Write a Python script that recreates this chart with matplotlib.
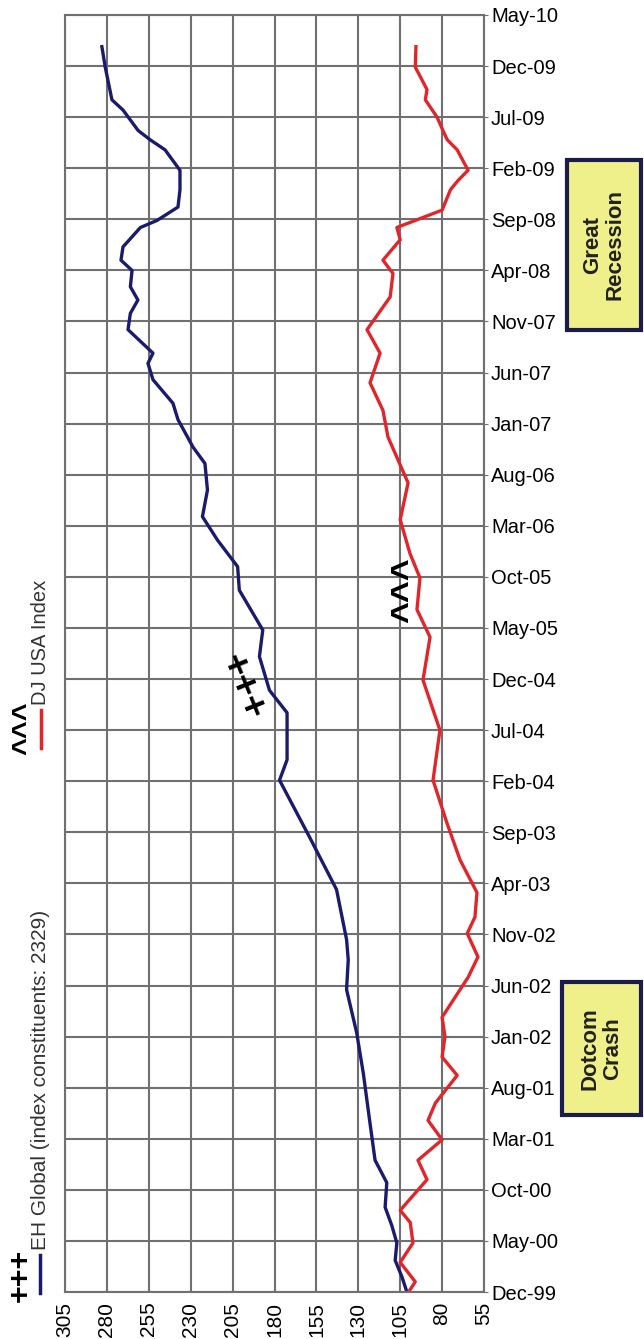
import matplotlib.pyplot as plt
from matplotlib.patches import Rectangle
from matplotlib.lines import Line2D

plt.rcParams['font.family'] = ['Liberation Sans', 'DejaVu Sans']

# time is in months since Dec-99, values are index levels (Dec-99 = 100)
eh_months = [0, 1.5, 3.1, 4.8, 6.5, 8.3, 10.7, 12.9, 16.5, 21.4, 25.4, 29.6, 32.5, 34.5,
             39.4, 44.5, 50.1, 52.1, 56.7, 58.9, 62.2, 64.8, 68.7, 71.0, 73.6, 75.9, 78.5,
             81.1, 82.7, 85.4, 87.0, 89.3, 90.9, 91.9, 94.2, 95.8, 97.1, 98.4, 100.0, 101.0,
             102.3, 104.2, 104.9, 106.2, 107.9, 109.8, 111.8, 112.8, 113.7, 115.7, 116.7,
             119.9, 121.9]
eh_values = [101, 104, 108, 107, 110, 114, 113, 120, 123, 127, 131, 137, 136, 137,
             143, 159, 177, 172.5, 172.5, 183, 189, 187, 201, 202, 214, 223, 220,
             221.5, 228.6, 237.6, 240.6, 252.5, 255.5, 252.5, 267.4, 266, 261.5, 266, 265, 271.6,
             270.4, 260, 250, 237.6, 236.4, 236.4, 245.3, 254.3, 261.4, 270.4, 277,
             281, 283]

dj_months = [0, 1.0, 2.9, 4.8, 6.8, 8.0, 11.0, 12.9, 14.9, 16.8, 18.5, 21.2, 23.0, 25.0,
             26.9, 30.8, 32.8, 35.1, 36.7, 39.1, 42.3, 45.9, 50.1, 55.0, 59.9, 64.1, 66.8,
             69.9, 72.3, 75.6, 79.2, 83.7, 86.3, 89.0, 91.9, 94.2, 97.4, 99.7, 101.0, 103.0,
             104.2, 105.9, 107.9, 108.8, 109.8, 111.8, 112.8, 113.7, 115.0, 116.7, 117.7,
             119.9, 121.9]
dj_values = [100, 96, 105, 97.4, 99, 105, 89, 94.4, 80, 88.4, 84, 71, 80, 78.3,
             80, 64.5, 58.6, 65, 60.4, 59.2, 69.3, 77.1, 85.4, 81.3, 91.4, 87.2, 95,
             93.2, 99.2, 105, 100.3, 112.3, 115.3, 123, 117, 124.8, 111, 109.3, 115.3, 105,
             107, 80, 75, 70.5, 64.5, 71, 77, 79.5, 83, 90, 89,
             96, 95.6]

date_labels = ['Dec-99', 'May-00', 'Oct-00', 'Mar-01', 'Aug-01', 'Jan-02', 'Jun-02',
               'Nov-02', 'Apr-03', 'Sep-03', 'Feb-04', 'Jul-04', 'Dec-04', 'May-05',
               'Oct-05', 'Mar-06', 'Aug-06', 'Jan-07', 'Jun-07', 'Nov-07', 'Apr-08',
               'Sep-08', 'Feb-09', 'Jul-09', 'Dec-09', 'May-10']
value_ticks = [305, 280, 255, 230, 205, 180, 155, 130, 105, 80, 55]

navy = '#1b1b6e'
red = '#e0262a'
grid_col = '#707070'

fig = plt.figure(figsize=(6.44, 13.39), dpi=100)
ax = fig.add_axes([65 / 644, 1 - 1292 / 1339, 419 / 644, 1277 / 1339])

ax.plot(eh_values, eh_months, color=navy, lw=2.4)
ax.plot(dj_values, dj_months, color=red, lw=2.4)

ax.set_xlim(305, 55)
ax.set_ylim(0, 125)
ax.set_xticks(value_ticks)
ax.set_xticklabels([str(v) for v in value_ticks], rotation=90, fontsize=15)
ax.set_yticks(range(0, 126, 5))
ax.set_yticklabels(date_labels, fontsize=14.5)
ax.yaxis.tick_right()
ax.grid(True, color=grid_col, lw=1.5)
ax.set_axisbelow(True)
for s in ax.spines.values():
    s.set_color(grid_col)
    s.set_linewidth(1.5)
ax.tick_params(axis='x', length=0, pad=7)
ax.tick_params(axis='y', length=3, color=grid_col, pad=2)

# in-chart series markers
ax.text(199.4, 59.2, '+++', rotation=-68, fontsize=28, fontweight='bold',
        ha='center', va='center', rotation_mode='anchor')
ax.text(100, 68.7, '^^^', rotation=90, fontsize=27, fontweight='bold',
        ha='center', va='center', rotation_mode='anchor')

# legend drawn down the left side
W, H = 644, 1339
fig.text(21 / W, 1 - 1275 / H, '+++', rotation=90, fontsize=22, fontweight='bold',
         ha='center', va='center', rotation_mode='anchor')
fig.add_artist(Line2D([40 / W, 40 / W], [1 - 1293 / H, 1 - 1255 / H], color=navy, lw=2.5))
fig.text(41 / W, 1 - 1250 / H, 'EH Global (index constituents: 2329)', rotation=90,
         fontsize=15, color='#333333', ha='center', va='bottom')
fig.text(26 / W, 1 - 728 / H, '^^^', rotation=90, fontsize=22, fontweight='bold',
         ha='center', va='center', rotation_mode='anchor')
fig.add_artist(Line2D([41 / W, 41 / W], [1 - 748 / H, 1 - 710 / H], color=red, lw=2.5))
fig.text(41 / W, 1 - 705 / H, 'DJ USA Index', rotation=90,
         fontsize=14.5, color='#333333', ha='center', va='bottom')

# event boxes
boxes = [(567, 160, 'Great\nRecession'), (562, 982, 'Dotcom\nCrash')]
box_h = [170, 133]
for (bx, by, label), bh in zip(boxes, box_h):
    fig.add_artist(Rectangle((bx / W, 1 - (by + bh) / H), (641 - bx) / W, bh / H,
                             transform=fig.transFigure, facecolor='#f0f08a',
                             edgecolor='#1c1c4c', lw=3))
    fig.text((bx + 641) / 2 / W, 1 - (by + bh / 2) / H, label, rotation=90,
             fontsize=16, fontweight='bold', color='#222222', ha='center', va='center',
             linespacing=1.1, multialignment='center')

fig.savefig('out.png', dpi=100)
